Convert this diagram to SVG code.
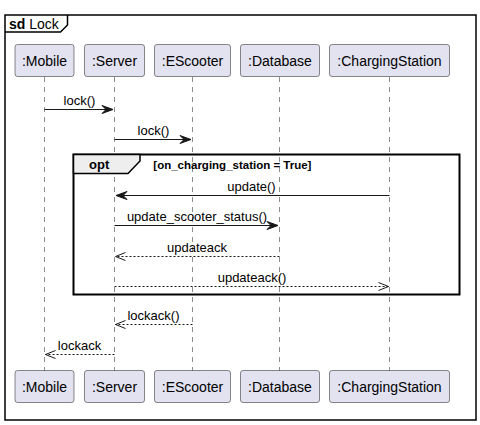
<svg xmlns="http://www.w3.org/2000/svg" width="480" height="425" viewBox="0 0 480 425">
<defs>
<style>
.frame{fill:none;stroke:#000000;stroke-width:1.5}
.part rect{fill:#E2E2F0;stroke:#181818;stroke-width:0.5}
.part text{font-family:"Liberation Sans",Arial,sans-serif;font-size:14px;fill:#000000;text-anchor:middle}
.life{stroke:#181818;stroke-width:0.5;stroke-dasharray:5,5;fill:none}
.msg{stroke:#181818;stroke-width:1;fill:none}
.ret{stroke:#181818;stroke-width:1;fill:none;stroke-dasharray:2,2}
.lbl{font-family:"Liberation Sans",Arial,sans-serif;font-size:13px;fill:#000000;text-anchor:middle}
.head{fill:#181818;stroke:#181818;stroke-width:1}
.open{fill:none;stroke:#181818;stroke-width:1}
</style>
</defs>
<rect width="480" height="425" fill="#FFFFFF"/>
<g id="frame">
<rect class="frame" x="5" y="15" width="471" height="405"/>
<path class="frame" d="M5,32 L60.5,32 L67.5,25 L67.5,15"/>
<text x="9" y="29" font-family="'Liberation Sans',Arial,sans-serif" font-size="14"><tspan font-weight="bold">sd</tspan> Lock</text>
</g>
<g id="lifelines">
<line class="life" x1="44.5" y1="77" x2="44.5" y2="371"/>
<line class="life" x1="114.5" y1="77" x2="114.5" y2="371"/>
<line class="life" x1="192.5" y1="77" x2="192.5" y2="371"/>
<line class="life" x1="279.5" y1="77" x2="279.5" y2="371"/>
<line class="life" x1="389.5" y1="77" x2="389.5" y2="371"/>
</g>
<g id="opt">
<rect x="73.5" y="154.5" width="386" height="140" fill="none" stroke="#000000" stroke-width="2"/>
<path d="M73.5,154.5 L140,154.5 L140,161 L128,173.5 L73.5,173.5 Z" fill="#EEEEEE" stroke="#000000" stroke-width="1.5"/>
<text x="89" y="168.5" font-family="'Liberation Sans',Arial,sans-serif" font-size="13" font-weight="bold">opt</text>
<text x="153.3" y="168.5" font-family="'Liberation Sans',Arial,sans-serif" font-size="11.5" font-weight="bold">[on_charging_station = True]</text>
</g>
<g id="connectors">
<line class="msg" x1="44.5" y1="109.5" x2="112" y2="109.5"/>
<polygon class="head" points="102,105.5 113,109.5 102,113.5 106,109.5"/>
<text class="lbl" x="79.5" y="104.5">lock()</text>

<line class="msg" x1="114.5" y1="139.5" x2="190" y2="139.5"/>
<polygon class="head" points="180,135.5 191,139.5 180,143.5 184,139.5"/>
<text class="lbl" x="153.5" y="134.5">lock()</text>

<line class="msg" x1="389.5" y1="195.5" x2="117" y2="195.5"/>
<polygon class="head" points="127,191.5 116,195.5 127,199.5 123,195.5"/>
<text class="lbl" x="251.5" y="190.5">update()</text>

<line class="msg" x1="114.5" y1="225.5" x2="277" y2="225.5"/>
<polygon class="head" points="267,221.5 278,225.5 267,229.5 271,225.5"/>
<text class="lbl" x="197" y="220.5">update_scooter_status()</text>

<line class="ret" x1="279.5" y1="256.5" x2="115.5" y2="256.5"/>
<polyline class="open" points="125.5,252.5 115.5,256.5 125.5,260.5"/>
<text class="lbl" x="197" y="251.5">updateack</text>

<line class="ret" x1="114.5" y1="286.5" x2="388.5" y2="286.5"/>
<polyline class="open" points="378.5,282.5 388.5,286.5 378.5,290.5"/>
<text class="lbl" x="252" y="281.5">updateack()</text>

<line class="ret" x1="192.5" y1="324.5" x2="115.5" y2="324.5"/>
<polyline class="open" points="125.5,320.5 115.5,324.5 125.5,328.5"/>
<text class="lbl" x="153.5" y="319.5">lockack()</text>

<line class="ret" x1="114.5" y1="354.5" x2="45.5" y2="354.5"/>
<polyline class="open" points="55.5,350.5 45.5,354.5 55.5,358.5"/>
<text class="lbl" x="79.5" y="349.5">lockack</text>
</g>
<g id="Mobile" class="part">
<rect x="15" y="44.5" width="59" height="32" rx="2.5"/>
<text x="44.5" y="65.5">:Mobile</text>
<rect x="15" y="370.5" width="59" height="32" rx="2.5"/>
<text x="44.5" y="391.5">:Mobile</text>
</g>
<g id="Server" class="part">
<rect x="84.5" y="44.5" width="60" height="32" rx="2.5"/>
<text x="114.5" y="65.5">:Server</text>
<rect x="84.5" y="370.5" width="60" height="32" rx="2.5"/>
<text x="114.5" y="391.5">:Server</text>
</g>
<g id="EScooter" class="part">
<rect x="154.5" y="44.5" width="76" height="32" rx="2.5"/>
<text x="192.5" y="65.5">:EScooter</text>
<rect x="154.5" y="370.5" width="76" height="32" rx="2.5"/>
<text x="192.5" y="391.5">:EScooter</text>
</g>
<g id="Database" class="part">
<rect x="240.5" y="44.5" width="79" height="32" rx="2.5"/>
<text x="280" y="65.5">:Database</text>
<rect x="240.5" y="370.5" width="79" height="32" rx="2.5"/>
<text x="280" y="391.5">:Database</text>
</g>
<g id="ChargingStation" class="part">
<rect x="329.5" y="44.5" width="120" height="32" rx="2.5"/>
<text x="389.5" y="65.5">:ChargingStation</text>
<rect x="329.5" y="370.5" width="120" height="32" rx="2.5"/>
<text x="389.5" y="391.5">:ChargingStation</text>
</g>
</svg>
